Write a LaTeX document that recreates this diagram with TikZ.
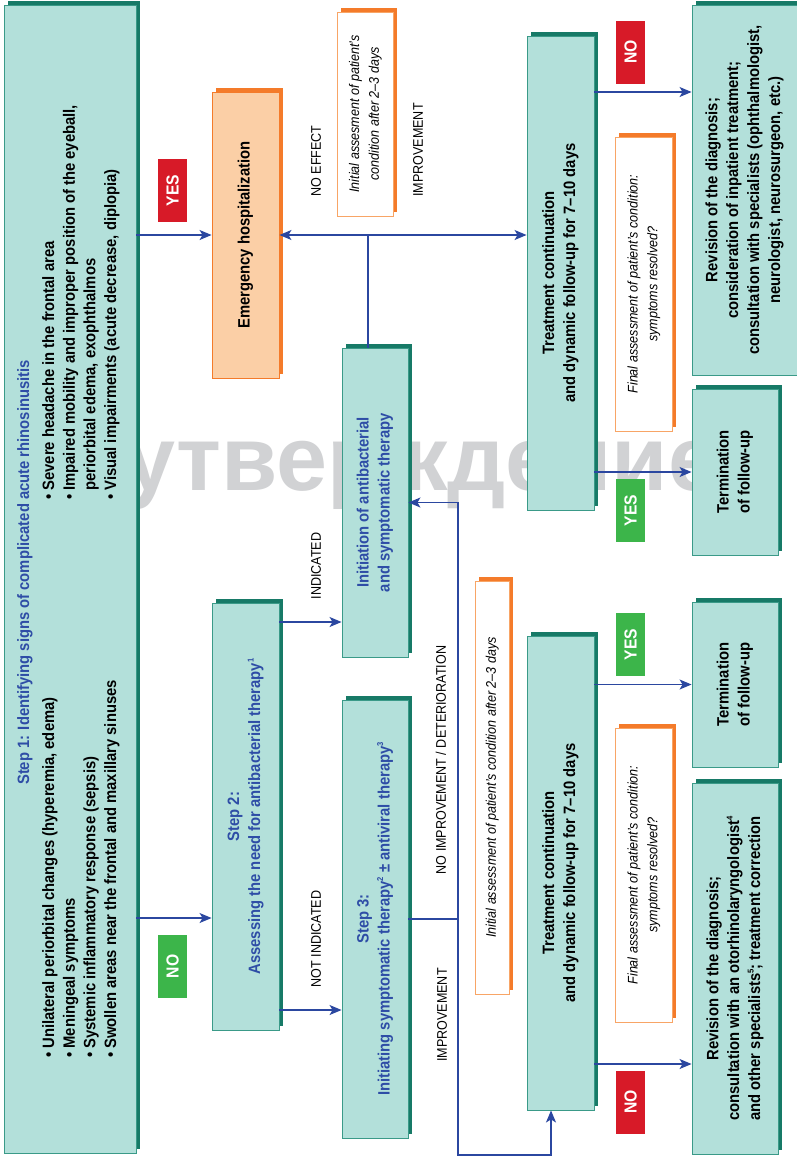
\documentclass[tikz,border=0pt]{standalone}
\usepackage{fontspec}
\setmainfont{Liberation Sans}[FakeStretch=0.9]
\newfontfamily\wmfont{Liberation Sans}
\usepackage{graphicx}
\usetikzlibrary{arrows.meta,shadows}
\definecolor{tealfill}{HTML}{B3E0DA}
\definecolor{tealline}{HTML}{3A9A88}
\definecolor{tealdark}{HTML}{177A67}
\definecolor{peach}{HTML}{FBCFA6}
\definecolor{orangec}{HTML}{F47B2A}
\definecolor{orangel}{HTML}{F8A566}
\definecolor{bluet}{HTML}{2E4DA6}
\definecolor{bluea}{HTML}{2B47A0}
\definecolor{redl}{HTML}{D71A28}
\definecolor{greenl}{HTML}{3CB54A}
\definecolor{wmgray}{HTML}{D1D2D4}
\newcommand{\rtxt}[1]{\rotatebox{90}{\begin{tabular}{@{}c@{}}#1\end{tabular}}}
\newcommand{\ltxt}[1]{\rotatebox{90}{\begin{tabular}{@{}l@{}}#1\end{tabular}}}
\newcommand{\supnum}[1]{\raisebox{0.75ex}{\fontsize{8.5}{9}\selectfont #1}}
\tikzset{
  tbox/.style={draw=tealline, fill=tealfill, line width=0.9bp, inner sep=0pt,
    drop shadow={shadow xshift=4bp, shadow yshift=4bp, opacity=1, fill=tealdark, draw=none},
    font=\fontsize{16.5}{21}\selectfont\bfseries, text=black},
  obox/.style={draw=orangec, fill=peach, line width=0.9bp, inner sep=0pt,
    drop shadow={shadow xshift=4bp, shadow yshift=4bp, opacity=1, fill=orangec, draw=none},
    font=\fontsize{16.5}{21}\selectfont\bfseries, text=black},
  wbox/.style={draw=orangel, fill=white, line width=0.9bp, inner sep=0pt,
    drop shadow={shadow xshift=4bp, shadow yshift=4bp, opacity=1, fill=orangec, draw=none},
    font=\fontsize{14}{20}\selectfont\itshape, text=black},
  tag/.style={inner sep=0pt, minimum width=29bp, minimum height=63bp, text=white,
    font=\fontsize{17.5}{20}\selectfont\bfseries},
  redtag/.style={tag, fill=redl},
  greentag/.style={tag, fill=greenl},
  lbl/.style={inner sep=0pt, font=\fontsize{14}{16}\selectfont, text=black},
  s1txt/.style={inner sep=0pt, font=\fontsize{16.5}{20.7}\selectfont\bfseries, text=black},
  arr/.style={draw=bluea, line width=1.2bp, -{Stealth[length=12bp,width=10bp,inset=3bp]}},
  ln/.style={draw=bluea, line width=1.2bp}
}
\begin{document}
\begin{tikzpicture}[x=1bp,y=-1bp]
\useasboundingbox (0,0) rectangle (797,1158);
\fill[white] (0,0) rectangle (797,1158);
% watermark
\node[inner sep=0pt, anchor=base west, text=wmgray, font=\wmfont\bfseries\fontsize{92}{92}\selectfont] (wm) at (124,490) {утверждение};
% boxes
\node[tbox, minimum width=132bp, minimum height=1148bp] (s1) at (70,579) {};
\node[s1txt, text=bluet, anchor=south] (s1title) at (25,785) {\rotatebox{90}{Step 1: Identifying signs of complicated acute rhinosinusitis}};
\node[s1txt, anchor=south] (s1a) at (81,1058) {\ltxt{• Unilateral periorbital changes (hyperemia, edema)\\• Meningeal symptoms\\• Systemic inflammatory response (sepsis)\\• Swollen areas near the frontal and maxillary sinuses}};
\node[s1txt, anchor=south] (s1b) at (81,500) {\ltxt{• Severe headache in the frontal area\\• Impaired mobility and improper position of the eyeball,\\\hphantom{• }periorbital edema, exophthalmos\\• Visual impairments (acute decrease, diplopia)}};
\node[obox, minimum width=67bp, minimum height=286bp] (emerg) at (245.5,235) {\rtxt{Emergency hospitalization}};
\node[tbox, text=bluet, minimum width=66bp, minimum height=309bp] (init) at (375,502.5) {\rtxt{Initiation of antibacterial\\and symptomatic therapy}};
\node[tbox, text=bluet, minimum width=67bp, minimum height=427bp] (s2) at (245.5,816.5) {\rtxt{Step 2:\\Assessing the need for antibacterial therapy\supnum{1}}};
\node[tbox, text=bluet, minimum width=66bp, minimum height=438bp] (s3) at (375,919) {\rtxt{Step 3:\\Initiating symptomatic therapy\supnum{2} ± antiviral therapy\supnum{3}}};
\node[wbox, minimum width=56bp, minimum height=204bp] (ia1) at (365,114) {\rtxt{Initial assesment of patient’s\\condition after 2–3 days}};
\node[wbox, minimum width=34bp, minimum height=413bp] (ia2) at (492,787.5) {\rtxt{Initial assessment of patient’s condition after 2–3 days}};
\node[tbox, minimum width=67bp, minimum height=474bp] (treat1) at (560.5,273) {\rtxt{Treatment continuation\\and dynamic follow-up for 7–10 days}};
\node[tbox, minimum width=67bp, minimum height=474bp] (treat2) at (560.5,873) {\rtxt{Treatment continuation\\and dynamic follow-up for 7–10 days}};
\node[wbox, minimum width=57bp, minimum height=294bp] (fa1) at (643.5,284) {\rtxt{Final assessment of patient’s condition:\\symptoms resolved?}};
\node[wbox, minimum width=57bp, minimum height=294bp] (fa2) at (643.5,875) {\rtxt{Final assessment of patient’s condition:\\symptoms resolved?}};
\node[tbox, minimum width=105bp, minimum height=370bp] (rev1) at (744.5,190) {\rtxt{Revision of the diagnosis;\\consideration of inpatient treatment;\\consultation with specialists (ophthalmologist,\\neurologist, neurosurgeon, etc.)}};
\node[tbox, minimum width=86bp, minimum height=166bp] (term1) at (735,472) {\rtxt{Termination\\of follow-up}};
\node[tbox, minimum width=86bp, minimum height=165bp] (term2) at (735,684.5) {\rtxt{Termination\\of follow-up}};
\node[tbox, minimum width=86bp, minimum height=371bp] (rev2) at (735,968.5) {\rtxt{Revision of the diagnosis;\\consultation with an otorhinolaryngologist\supnum{4}\\and other specialists\supnum{5}; treatment correction}};
% tags
\node[redtag] (yes1) at (172.5,190.5) {\rotatebox{90}{YES}};
\node[greentag] (no1) at (172.5,966.5) {\rotatebox{90}{NO}};
\node[redtag] (no2) at (630.5,52) {\rotatebox{90}{NO}};
\node[greentag] (yes2) at (630.5,510.5) {\rotatebox{90}{YES}};
\node[greentag] (yes3) at (630.5,644.5) {\rotatebox{90}{YES}};
\node[redtag] (no3) at (630.5,1102) {\rotatebox{90}{NO}};
% labels
\node[lbl] (l1) at (316,161) {\rotatebox{90}{NO EFFECT}};
\node[lbl] (l2) at (418,150) {\rotatebox{90}{IMPROVEMENT}};
\node[lbl] (l3) at (316,566) {\rotatebox{90}{INDICATED}};
\node[lbl] (l4) at (316,939) {\rotatebox{90}{NOT INDICATED}};
\node[lbl] (l5) at (441,760) {\rotatebox{90}{NO IMPROVEMENT / DETERIORATION}};
\node[lbl] (l6) at (442,1015) {\rotatebox{90}{IMPROVEMENT}};
% connectors
\draw[arr] (s1.east |- emerg.west) -- (emerg.west);
\draw[arr] (s1.east |- 0,918) -- (s2.west |- 0,918);
\coordinate (j1) at (368,235);
\draw[ln] (j1 |- init.north) -- (j1);
\draw[arr] (j1) -- (emerg.east);
\draw[arr] (j1) -- (treat1.west |- j1);
\draw[arr] (s2.east |- 0,622) -- (init.west |- 0,622);
\draw[arr] (s2.east |- 0,1010) -- (s3.west |- 0,1010);
\coordinate (j2) at (458,919);
\coordinate (c3) at (551,1155);
\draw[ln] (s3.east |- j2) -- (j2);
\draw[arr] (j2) -- (j2 |- init.east) -- (init.east);
\draw[arr] (j2) |- (c3) -- (c3 |- treat2.south);
\draw[arr] (treat1.east |- 0,92) -- (rev1.west |- 0,92);
\draw[arr] (treat1.east |- term1.west) -- (term1.west);
\draw[arr] (treat2.east |- term2.west) -- (term2.west);
\draw[arr] (treat2.east |- 0,1064) -- (rev2.west |- 0,1064);
\end{tikzpicture}
\end{document}
